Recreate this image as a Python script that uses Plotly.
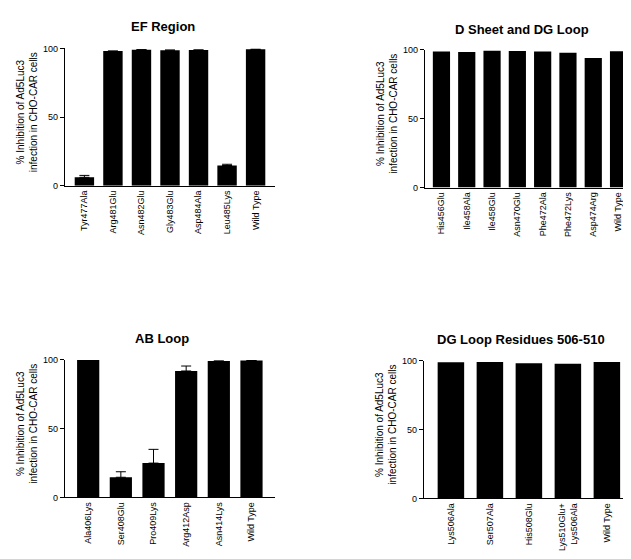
import plotly.graph_objects as go

W, H = 631, 559

# ---- data ----
ef_labels = ["Tyr477Ala", "Arg481Glu", "Asn482Glu", "Gly483Glu", "Asp484Ala", "Leu485Lys", "Wild Type"]
ef_values = [6.2, 98.0, 99.0, 98.7, 98.8, 14.8, 99.3]
ef_errors = [1.4, None, None, None, None, 0.9, None]

ds_labels = ["His456Glu", "Ile458Ala", "Ile458Glu", "Asn470Glu", "Phe472Ala", "Phe472Lys", "Asp474Arg", "Wild Type"]
ds_values = [98.6, 98.3, 99.2, 99.0, 98.6, 97.8, 94.0, 98.9]

ab_labels = ["Ala406Lys", "Ser408Glu", "Pro409Lys", "Arg412Asp", "Asn414Lys", "Wild Type"]
ab_values = [100.0, 14.7, 25.0, 92.0, 99.2, 99.6]
ab_errors = [None, 4.0, 10.0, 3.6, None, None]

dg_labels = ["Lys506Ala", "Ser507Ala", "His508Glu", "Lys510Glu+<br>Lys506Ala", "Wild Type"]
dg_values = [98.8, 99.1, 98.1, 97.8, 99.0]

titles = ["EF Region", "D Sheet and DG Loop", "AB Loop", "DG Loop Residues 506-510"]
y_title = "% Inhibition of Ad5Luc3<br>infection in CHO-CAR cells"
y_ticks = [0, 50, 100]

# ---- layout geometry (pixels) ----
panels = [
    # labels, values, errors, x0, x1, ytop, ybot, xrange, title center x,y
    (ef_labels, ef_values, ef_errors, 57, 267, 36, 176, [-0.68, 6.68], 155, 13.5),
    (ds_labels, ds_values, None, 417, 627, 37.3, 177.7, [-0.65, 7.65], 514, 17),
    (ab_labels, ab_values, ab_errors, 57, 267, 353.3, 493.3, [-0.71, 5.72], 154, 331.5),
    (dg_labels, dg_values, None, 416, 625, 354, 494.3, [-0.69, 4.67], 513, 332.5),
]

def px_x(x):
    return x / W

def px_y(y):
    return 1 - y / H

tick_font = dict(family="Liberation Sans Narrow, Arial Narrow, Liberation Sans, Arial", size=9, color="black")

fig = go.Figure()
annotations = []
for i, (labels, values, errors, x0, x1, yt, yb, xr, tx, ty) in enumerate(panels):
    n = i + 1
    xa = "x" if n == 1 else f"x{n}"
    ya = "y" if n == 1 else f"y{n}"
    trace = dict(
        x=labels, y=values, xaxis=xa, yaxis=ya,
        marker=dict(color="black", line=dict(width=0)),
        hoverinfo="x+y",
    )
    if errors is not None:
        trace["error_y"] = dict(
            type="data", array=errors, arrayminus=[0 if e is not None else None for e in errors],
            symmetric=False, color="black", thickness=1, width=5,
        )
    fig.add_trace(go.Bar(**trace))

    xkey = "xaxis" if n == 1 else f"xaxis{n}"
    ykey = "yaxis" if n == 1 else f"yaxis{n}"
    fig.update_layout(**{
        xkey: dict(
            domain=[px_x(x0), px_x(x1)], anchor=ya, type="category",
            categoryorder="array", categoryarray=labels,
            range=xr, tickangle=-90, ticks="", showgrid=False, zeroline=False,
            showline=True, linecolor="black", linewidth=1.2,
            tickfont=tick_font, fixedrange=True,
        ),
        ykey: dict(
            domain=[px_y(yb), px_y(yt)], anchor=xa, range=[0, 100],
            tickvals=y_ticks, ticktext=[str(v) for v in y_ticks],
            ticks="outside", ticklen=4, tickwidth=1, tickcolor="black",
            showgrid=False, zeroline=False, showline=True,
            linecolor="black", linewidth=1.2, tickfont=tick_font, fixedrange=True,
        ),
    })
    annotations.append(dict(
        text=f"<b>{titles[i]}</b>", x=px_x(tx), y=px_y(ty), xref="paper", yref="paper",
        xanchor="center", yanchor="middle", showarrow=False,
        font=dict(family="Liberation Sans, Arial", size=13, color="black"),
    ))
    annotations.append(dict(
        text=y_title, x=px_x(x0 - 38), y=px_y((yt + yb) / 2 - 5), xref="paper", yref="paper",
        xanchor="center", yanchor="middle", showarrow=False, textangle=-90,
        font=dict(family="Liberation Sans, Arial", size=10, color="black"),
    ))

fig.update_layout(
    width=W, height=H, margin=dict(l=0, r=0, t=0, b=0),
    paper_bgcolor="white", plot_bgcolor="white",
    showlegend=False, bargap=0.32, annotations=annotations,
)

fig.write_html("out.html")
